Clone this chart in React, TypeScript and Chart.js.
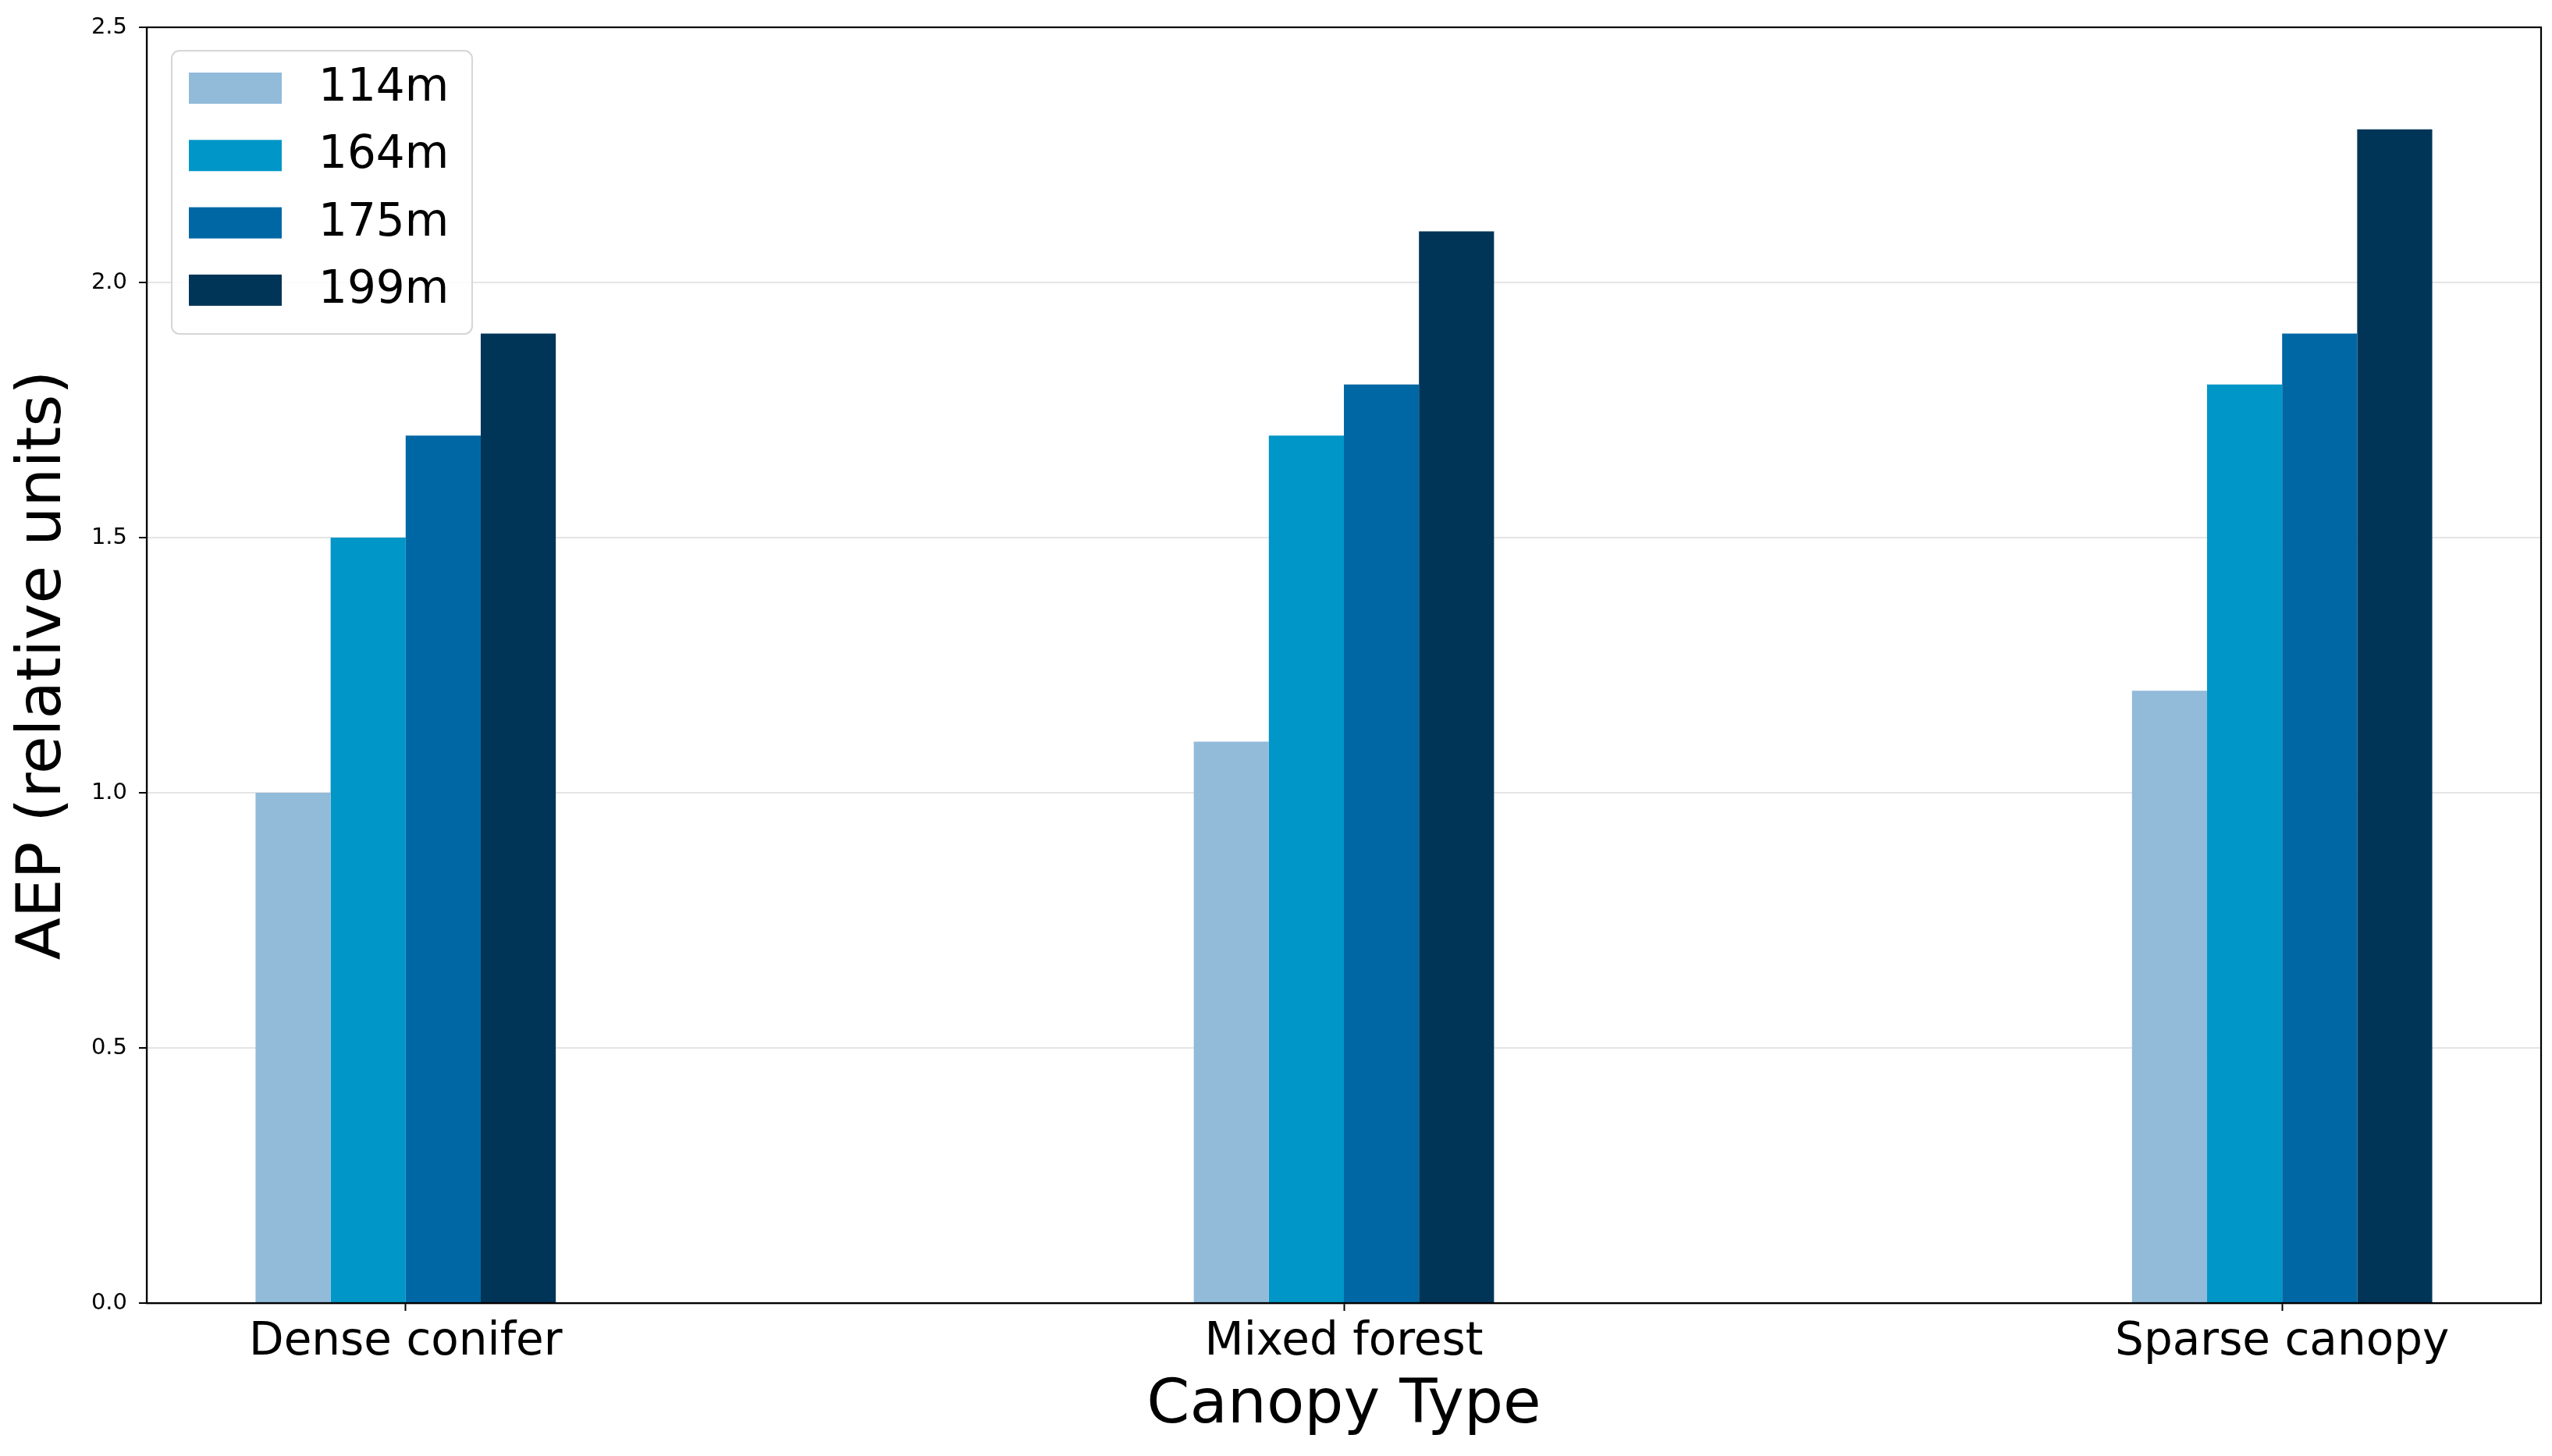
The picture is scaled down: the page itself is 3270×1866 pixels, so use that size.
import React, { useEffect, useRef } from "react";
import { Chart, registerables } from "chart.js";

Chart.register(...registerables);

const categories = ["Dense conifer", "Mixed forest", "Sparse canopy"];
const seriesLabels = ["114m", "164m", "175m", "199m"];
const aep114 = [1.0, 1.1, 1.2];
const aep164 = [1.5, 1.7, 1.8];
const aep175 = [1.7, 1.8, 1.9];
const aep199 = [1.9, 2.1, 2.3];
const seriesColors = ["#92bad9", "#0096c7", "#0067a5", "#003558"];
const yTickValues = [0, 0.5, 1.0, 1.5, 2.0, 2.5];

const FONT = "'DejaVu Sans', sans-serif";

const framePlugin = {
  id: "frame",
  afterDraw(chart: any) {
    const { ctx, chartArea } = chart;
    ctx.save();
    ctx.strokeStyle = "#000";
    ctx.lineWidth = 2.2;
    ctx.strokeRect(chartArea.left, chartArea.top, chartArea.right - chartArea.left, chartArea.bottom - chartArea.top);
    ctx.restore();
  },
};

const legendPlugin = {
  id: "boxLegend",
  afterDraw(chart: any) {
    const { ctx } = chart;
    const ds = chart.data.datasets;
    const bx = 220, by = 65, bw = 385, bh = 363;
    ctx.save();
    ctx.beginPath();
    ctx.roundRect(bx, by, bw, bh, 10);
    ctx.fillStyle = "rgba(255,255,255,0.85)";
    ctx.fill();
    ctx.strokeStyle = "#d6d6d6";
    ctx.lineWidth = 2;
    ctx.stroke();
    ctx.font = `58px ${FONT}`;
    ctx.textBaseline = "middle";
    ctx.textAlign = "left";
    ds.forEach((d: any, i: number) => {
      const cy = 113 + i * 86.3;
      ctx.fillStyle = d.backgroundColor;
      ctx.fillRect(242, cy - 20, 119, 40);
      ctx.fillStyle = "#000";
      ctx.fillText(d.label, 408, cy + 1);
    });
    ctx.restore();
  },
};

export default function App() {
  const canvasRef = useRef<HTMLCanvasElement | null>(null);

  useEffect(() => {
    if (!canvasRef.current) return;
    const series = [aep114, aep164, aep175, aep199];
    const chart = new Chart(canvasRef.current, {
      type: "bar",
      data: {
        datasets: series.map((vals, si) => ({
          label: seriesLabels[si],
          data: vals.map((v, i) => ({ x: i, y: v })),
          backgroundColor: seriesColors[si],
          borderWidth: 0,
          categoryPercentage: 0.32,
          barPercentage: 1.0,
        })),
      },
      options: {
        responsive: false,
        animation: false,
        devicePixelRatio: 1,
        layout: { padding: { left: 0, top: 35, right: 14, bottom: 0 } },
        plugins: {
          legend: { display: false },
          tooltip: { enabled: false },
        },
        scales: {
          x: {
            type: "linear",
            min: -0.276,
            max: 2.276,
            offset: false,
            afterBuildTicks: (scale: any) => {
              scale.ticks = categories.map((_, i) => ({ value: i }));
            },
            afterFit: (scale: any) => {
              scale.height = 196;
            },
            grid: {
              offset: false,
              drawOnChartArea: false,
              drawTicks: true,
              tickLength: 10,
              tickWidth: 2,
              tickColor: "#000",
            },
            border: { display: true, color: "#000", width: 2.2 },
            ticks: {
              autoSkip: false,
              maxRotation: 0,
              padding: 6,
              color: "#000",
              font: { family: FONT, size: 58, lineHeight: 1.2 },
              callback: (value: any) => categories[value as number] ?? "",
            },
            title: {
              display: true,
              text: "Canopy Type",
              color: "#000",
              font: { family: FONT, size: 79, lineHeight: 1 },
              padding: { top: 0, bottom: 24 },
            },
          },
          y: {
            type: "linear",
            min: 0,
            max: 2.5,
            z: 1,
            afterBuildTicks: (scale: any) => {
              scale.ticks = yTickValues.map((v) => ({ value: v }));
            },
            afterFit: (scale: any) => {
              scale.width = 188;
            },
            grid: {
              color: "rgba(170,170,170,0.3)",
              lineWidth: 2,
              drawTicks: true,
              tickLength: 10,
              tickWidth: 2,
              tickColor: "#000",
            },
            border: { display: true, color: "#000", width: 2.2 },
            ticks: {
              padding: 15,
              color: "#000",
              font: { family: FONT, size: 29 },
              callback: (value: any) => Number(value).toFixed(1),
            },
            title: {
              display: true,
              text: "AEP (relative units)",
              color: "#000",
              font: { family: FONT, size: 79, lineHeight: 1 },
              padding: { top: 17, bottom: 0 },
            },
          },
        },
      },
      plugins: [framePlugin, legendPlugin],
    } as any);
    return () => chart.destroy();
  }, []);

  return (
    <div style={{ position: "absolute", left: 0, top: 0, width: 3270, height: 1866, background: "#fff" }}>
      <canvas ref={canvasRef} width={3270} height={1866} style={{ display: "block", width: 3270, height: 1866 }} />
    </div>
  );
}
